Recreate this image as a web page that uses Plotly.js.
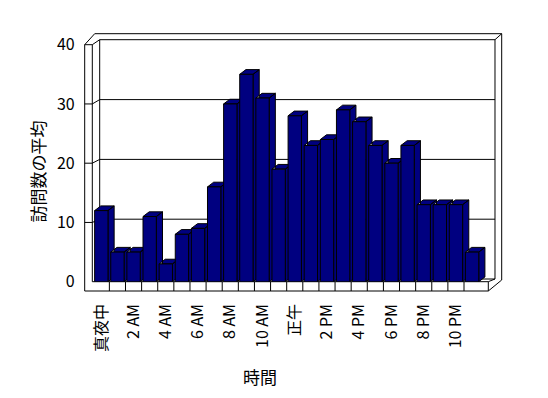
<!DOCTYPE html>
<html><head><meta charset="utf-8">
<script src="https://cdn.plot.ly/plotly-3.0.1.min.js"></script>
<style>html,body{margin:0;padding:0;background:#fff}</style>
</head><body><div id="chart" style="width:548px;height:398px"></div>
<script>
// ---- data ----
const hours = [0,1,2,3,4,5,6,7,8,9,10,11,12,13,14,15,16,17,18,19,20,21,22,23];
const visits = [12,5,5,11,3,8,9,16,30,35,31,19,28,23,24,29,27,23,20,23,13,13,13,5];
const tickPositions = [0,2,4,6,8,10,12,14,16,18,20,22];
const tickLabels = ['真夜中','2 AM','4 AM','6 AM','8 AM','10 AM','正午','2 PM','4 PM','6 PM','8 PM','10 PM'];
const yTicks = [0,10,20,30,40];
const xTitle = '時間';
const yTitle = '訪問数の平均';

// ---- geometry (pixels) ----
const W = 548, H = 398;
const px = x => x / W;
const py = y => 1 - y / H;
const FONT = 'Noto Sans CJK JP, Noto Sans, sans-serif';
const NAVY = '#000080';
const catW = 16.456;                 // px per category
const xStart = 93.25;                // left edge of first category band
const xDomEnd = xStart + 24.0 * catW; // range -0.5 .. 23.5+0.5
const yFront0 = 281.7, yFront40 = 44.7;
const barW = 0.827;
const depthX = 6.3 / catW;                          // in category units
const depthY = 4.7 / ((yFront0 - yFront40) / 40);   // in value units

// side + top faces of each bar (drawn behind the front faces)
const fx = [], fy = [];
hours.forEach((h, i) => {
  const v = visits[i];
  const l = h - barW / 2, r = h + barW / 2;
  fx.push(r, r + depthX, r + depthX, r, r, null);
  fy.push(0, depthY, v + depthY, v, 0, null);
  fx.push(l, l + depthX, r + depthX, r, l, null);
  fy.push(v, v + depthY, v + depthY, v, v, null);
});

const traces = [
  {type: 'scatter', mode: 'lines', x: fx, y: fy, fill: 'toself', fillcolor: NAVY,
   line: {color: '#000', width: 1}, hoverinfo: 'skip', showlegend: false, xaxis: 'x', yaxis: 'y'},
  {type: 'bar', x: hours, y: visits, width: barW,
   marker: {color: NAVY, line: {color: '#000', width: 1}},
   showlegend: false, xaxis: 'x2', yaxis: 'y2'}
];

function P(points) {
  return points.map((p, i) => (i ? 'L' : 'M') + px(p[0]).toFixed(5) + ',' + py(p[1]).toFixed(5)).join(' ');
}
const backY = v => 279 - v * 5.98;
const frontY = v => yFront0 - v * (yFront0 - yFront40) / 40;
const lineStyle = {color: '#000', width: 1};
const shapes = [];
function addPath(pts) {
  shapes.push({type: 'path', xref: 'paper', yref: 'paper', layer: 'below', path: P(pts), line: lineStyle});
}
addPath([[84.7,44.7],[84.7,291],[488.3,291],[488.3,281.7],[92.3,281.7],[92.3,44.7],[84.7,44.7]]);
addPath([[84.7,44.7],[94.7,33.7]]);
addPath([[92.3,44.7],[99.7,39.7]]);
addPath([[94.7,33.7],[501.7,33.7],[501.7,280]]);
addPath([[99.7,279],[99.7,39.7],[495,39.7],[495,279]]);
addPath([[495,39.7],[501.7,33.7]]);
addPath([[488.3,291],[501.7,280]]);
addPath([[488.3,281.7],[495,279]]);
addPath([[99.7,279],[495,279]]);
[10,20,30].forEach(v => addPath([[84.7,frontY(v)],[92.3,frontY(v)],[99.7,backY(v)],[495,backY(v)]]));
for (let k = 0; k < 23; k++) {
  shapes.push({type: 'line', xref: 'x', yref: 'paper', layer: 'below',
    x0: k + 0.5, x1: k + 0.5, y0: py(281.7), y1: py(291), line: lineStyle});
}

const layout = {
  width: W, height: H,
  margin: {l: 0, r: 0, t: 0, b: 0, pad: 0},
  paper_bgcolor: '#fff', plot_bgcolor: 'rgba(0,0,0,0)',
  font: {family: FONT, size: 16, color: '#000'},
  showlegend: false,
  xaxis: {domain: [px(xStart), px(xDomEnd)], range: [-0.5, 24], tickmode: 'array',
    tickvals: tickPositions, ticktext: tickLabels, tickangle: -90, ticks: '', ticklabelstandoff: 18,
    showgrid: false, zeroline: false, showline: false, fixedrange: true,
    tickfont: {family: FONT, size: 16}},
  yaxis: {domain: [py(yFront0), py(yFront40)], range: [0, 40], tickmode: 'array', tickvals: yTicks,
    ticks: '', ticklabelstandoff: 10, showgrid: false, zeroline: false, showline: false, fixedrange: true,
    anchor: 'free', position: px(84.7), tickfont: {family: FONT, size: 16}},
  xaxis2: {overlaying: 'x', range: [-0.5, 24], visible: false, fixedrange: true},
  yaxis2: {overlaying: 'y', range: [0, 40], visible: false, fixedrange: true},
  shapes: shapes,
  annotations: [
    {text: xTitle, xref: 'paper', yref: 'paper', x: px(260), y: py(376), xanchor: 'center', yanchor: 'middle',
     showarrow: false, font: {family: FONT, size: 17}},
    {text: yTitle, xref: 'paper', yref: 'paper', x: px(37), y: py(171.5), xanchor: 'center', yanchor: 'middle',
     textangle: -90, showarrow: false, font: {family: FONT, size: 17}}
  ]
};
Plotly.newPlot('chart', traces, layout, {displayModeBar: false, staticPlot: true});
</script></body></html>
